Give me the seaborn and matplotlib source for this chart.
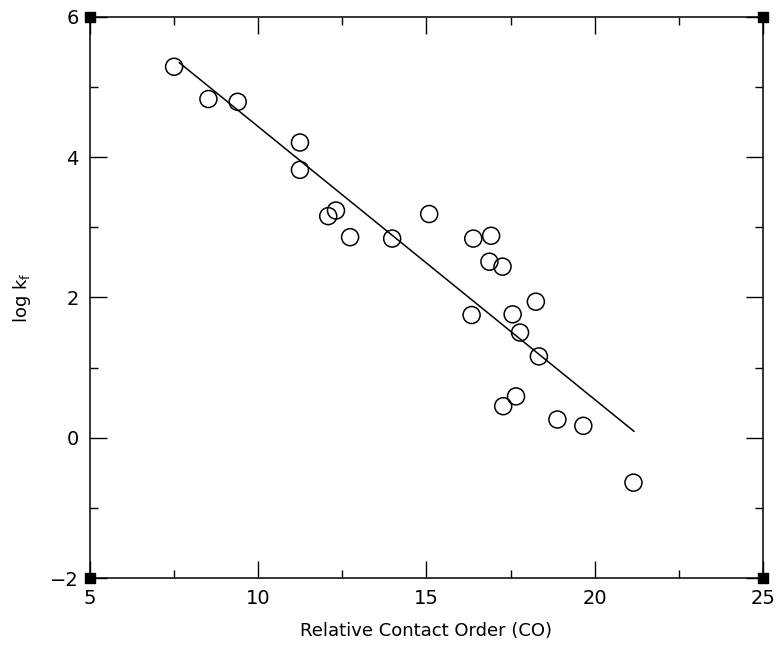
import numpy as np
import pandas as pd
import matplotlib
matplotlib.use("Agg")
import matplotlib.pyplot as plt
import seaborn as sns
from matplotlib.ticker import MultipleLocator

# ── Data ──────────────────────────────────────────────────────
contact_order = [7.50, 8.52, 9.39, 11.24, 11.24, 12.08, 12.31, 12.73, 13.98,
                 15.08, 16.39, 16.92, 16.87, 17.26, 18.25, 16.34, 17.56,
                 17.78, 18.34, 17.66, 17.28, 18.89, 19.66, 21.15]
log_kf = [5.29, 4.83, 4.79, 4.21, 3.82, 3.16, 3.24, 2.86, 2.84,
          3.19, 2.84, 2.88, 2.51, 2.44, 1.94, 1.75, 1.76,
          1.50, 1.16, 0.59, 0.45, 0.26, 0.17, -0.64]

fit_x = [7.65, 21.17]
fit_y = [5.35, 0.09]

df = pd.DataFrame({'co': contact_order, 'logkf': log_kf})
fit = pd.DataFrame({'co': fit_x, 'logkf': fit_y})

# ── Plot ──────────────────────────────────────────────────────
sns.set_style('ticks')
plt.rcParams['font.family'] = ['DejaVu Sans']
plt.rcParams['text.color'] = 'black'
plt.rcParams['axes.labelcolor'] = 'black'
plt.rcParams['xtick.color'] = 'black'
plt.rcParams['ytick.color'] = 'black'

fig = plt.figure(figsize=(7.77, 6.63), dpi=100)
ax = fig.add_axes([0.1158, 0.1282, 0.9820 - 0.1158, 0.9744 - 0.1282])

sns.lineplot(data=fit, x='co', y='logkf', ax=ax, color='black', linewidth=1.1)
sns.scatterplot(data=df, x='co', y='logkf', ax=ax, marker='o', s=150,
                facecolor='none', edgecolor='black', linewidth=1.1, zorder=3)

ax.set_xlim(5, 25)
ax.set_ylim(-2, 6)
ax.xaxis.set_major_locator(MultipleLocator(5))
ax.xaxis.set_minor_locator(MultipleLocator(2.5))
ax.yaxis.set_major_locator(MultipleLocator(2))
ax.yaxis.set_minor_locator(MultipleLocator(1))
ax.tick_params(which='both', direction='in', top=True, right=True,
               width=1.0, color='black', labelcolor='black', labelsize=14, pad=8)
ax.tick_params(which='major', length=12)
ax.tick_params(which='minor', length=6)
for sp in ax.spines.values():
    sp.set_visible(True)
    sp.set_linewidth(1.1)
    sp.set_color('black')

# corner squares
ax.scatter([5, 25, 5, 25], [6, 6, -2, -2], marker='s', s=55, color='black',
           clip_on=False, zorder=4)

ax.set_xlabel('Relative Contact Order (CO)', fontsize=13, labelpad=10)
ax.set_ylabel(r'log k$_\mathregular{f}$', fontsize=13, labelpad=12)

fig.savefig('out.png', dpi=100)
